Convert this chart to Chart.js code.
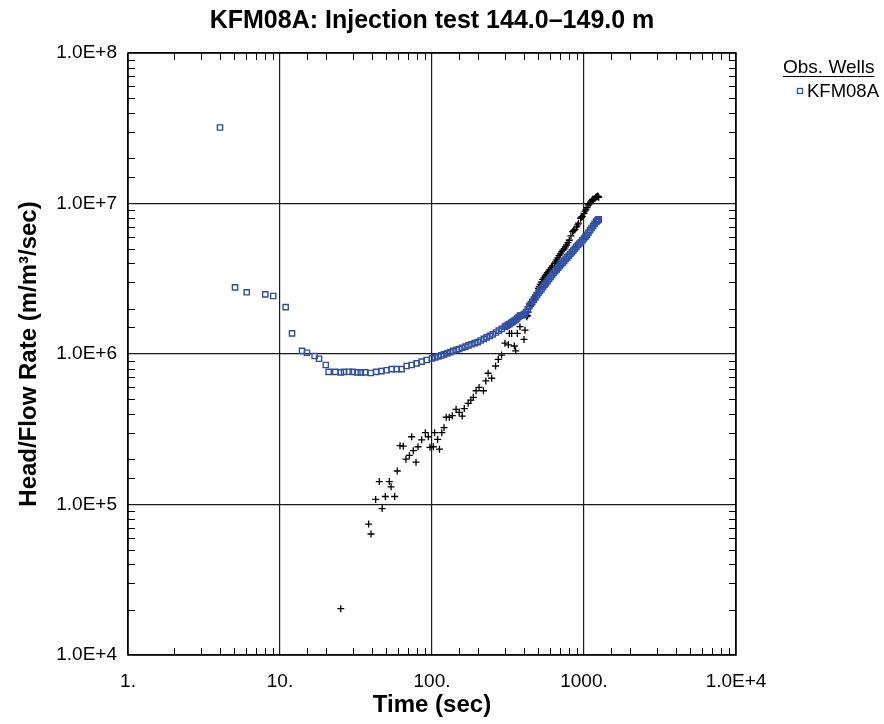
<!DOCTYPE html>
<html>
<head>
<meta charset="utf-8">
<script src="https://cdn.jsdelivr.net/npm/chart.js@4.4.0/dist/chart.umd.min.js"></script>
<style>
  html, body { margin: 0; padding: 0; background: #fff; }
</style>
</head>
<body>
<canvas id="chart" width="884" height="724"></canvas>
<script>
// observed head / flow rate, well KFM08A (squares)
const wellTime = [4.03, 5.06, 6.04, 8.0, 9.03, 10.9, 12.0, 13.96, 15.05, 16.9, 18.06, 20.0, 20.9, 23.1,
  25.1, 26.4, 28.4, 30.1, 32.3, 34.0, 36.3, 39.5, 43.0, 46.4, 50.3, 54.3, 58.6, 63.1, 68.1, 73.5,
  79.3, 85.5, 92.3, 100, 105, 110, 115, 120, 126, 132, 138, 145, 151, 158, 166, 174, 182, 191,
  200, 209, 219, 229, 240, 251, 263, 275, 288, 302, 309, 316, 323, 331, 339, 347, 355, 363, 371,
  380, 389, 398, 407, 417, 427, 437, 447, 457, 468, 479, 490, 501, 513, 525, 537, 550, 562, 575,
  589, 603, 617, 631, 646, 661, 676, 692, 708, 724, 741, 759, 776, 794, 813, 832, 851, 871, 891,
  912, 933, 955, 977, 1000, 1023, 1047, 1071, 1096, 1122, 1148, 1175, 1202, 1216, 1230, 1240, 1250];
const wellHead = [3.2e7, 2.77e6, 2.57e6, 2.49e6, 2.43e6, 2.05e6, 1.37e6, 1.05e6, 1.02e6, 9.7e5, 9.3e5, 8.45e5, 7.6e5, 7.6e5,
  7.55e5, 7.6e5, 7.62e5, 7.6e5, 7.55e5, 7.55e5, 7.55e5, 7.48e5, 7.6e5, 7.7e5, 7.8e5, 7.94e5, 7.94e5, 7.94e5, 8.32e5, 8.45e5,
  8.67e5, 8.9e5, 9.12e5, 9.35e5, 9.5e5, 9.65e5, 9.8e5, 9.95e5, 1.01e6, 1.03e6, 1.05e6, 1.065e6, 1.08e6, 1.1e6, 1.12e6, 1.14e6, 1.16e6, 1.18e6,
  1.2e6, 1.23e6, 1.26e6, 1.29e6, 1.32e6, 1.35e6, 1.39e6, 1.43e6, 1.47e6, 1.52e6, 1.54e6, 1.56e6, 1.58e6, 1.61e6, 1.635e6, 1.66e6, 1.69e6, 1.72e6, 1.76e6,
  1.8e6, 1.81e6, 1.82e6, 1.85e6, 1.9e6, 1.98e6, 2.08e6, 2.15e6, 2.22e6, 2.3e6, 2.38e6, 2.46e6, 2.55e6, 2.62e6, 2.7e6, 2.79e6, 2.88e6, 2.96e6, 3.05e6,
  3.15e6, 3.25e6, 3.35e6, 3.45e6, 3.55e6, 3.65e6, 3.75e6, 3.85e6, 3.95e6, 4.05e6, 4.16e6, 4.28e6, 4.39e6, 4.5e6, 4.62e6, 4.75e6, 4.87e6, 5.0e6, 5.15e6,
  5.3e6, 5.42e6, 5.55e6, 5.7e6, 5.85e6, 6.02e6, 6.2e6, 6.42e6, 6.65e6, 6.88e6, 7.1e6, 7.33e6, 7.55e6, 7.65e6, 7.75e6, 7.8e6, 7.85e6];

// derivative (crosses)
const derivTime = [25.1, 38.3, 39.7, 42.6, 45.0, 47.0, 49.3, 52.4, 53.8, 56.8, 59.1, 61.6, 64.7, 67.4, 71.0,
  73.5, 75.4, 78.5, 80.9, 85.5, 90.4, 94.6, 97.0, 102, 104, 109, 112, 116, 120, 124, 130, 136, 144,
  151, 158, 163, 173, 180, 187, 195, 204, 218, 226, 234, 247, 262, 273, 287, 302, 318, 323, 334,
  348, 355, 364, 379, 403, 409, 420, 425, 430, 441, 448, 455, 465, 476, 482, 490, 501, 508, 515,
  525, 535, 545, 555, 565, 574, 585, 597, 610, 622, 640, 650, 661, 673, 685, 698, 713, 727, 740,
  755, 769, 785, 800, 820, 842, 856, 870, 895, 908, 920, 951, 963, 975, 1000, 1015, 1030, 1048,
  1067, 1095, 1108, 1122, 1136, 1150, 1180, 1195, 1211, 1230, 1240, 1250];
const derivHead = [2.03e4, 7.41e4, 6.37e4, 1.08e5, 1.42e5, 9.4e4, 1.13e5, 1.42e5, 1.31e5, 1.13e5, 1.67e5, 2.46e5, 2.44e5, 2.0e5, 2.12e5,
  2.82e5, 2.28e5, 1.91e5, 2.42e5, 2.69e5, 3.0e5, 2.82e5, 2.4e5, 2.42e5, 3.0e5, 2.71e5, 2.33e5, 3.0e5, 3.24e5, 3.8e5, 3.8e5, 3.89e5, 4.29e5,
  4.1e5, 3.87e5, 4.34e5, 4.7e5, 4.94e5, 5.15e5, 5.7e5, 6.0e5, 5.7e5, 6.62e5, 7.45e5, 6.9e5, 8.32e5, 9.2e5, 9.84e5, 1.18e6, 1.15e6, 1.37e6, 1.37e6,
  1.13e6, 1.05e6, 1.37e6, 1.52e6, 1.25e6, 1.44e6, 1.77e6, 1.8e6, 1.9e6, 2.08e6, 2.12e6, 2.2e6, 2.3e6, 2.38e6, 2.45e6, 2.55e6, 2.73e6, 2.8e6, 2.9e6,
  3.0e6, 3.13e6, 3.2e6, 3.3e6, 3.38e6, 3.47e6, 3.55e6, 3.65e6, 3.75e6, 3.85e6, 4.0e6, 4.1e6, 4.22e6, 4.35e6, 4.5e6, 4.62e6, 4.79e6, 4.9e6, 5.0e6,
  5.15e6, 5.3e6, 5.5e6, 5.7e6, 6.1e6, 6.5e6, 6.6e6, 6.7e6, 7.0e6, 7.2e6, 7.4e6, 7.98e6, 8.1e6, 8.2e6, 8.6e6, 8.9e6, 9.1e6, 9.4e6,
  9.78e6, 1.0e7, 1.02e7, 1.04e7, 1.06e7, 1.07e7, 1.08e7, 1.1e7, 1.11e7, 1.12e7, 1.11e7, 1.1e7];

const xTickValues = [1, 10, 100, 1000, 10000];
const xTickLabels = ['1.', '10.', '100.', '1000.', '1.0E+4'];
const yTickValues = [1e4, 1e5, 1e6, 1e7, 1e8];
const yTickLabels = ['1.0E+4', '1.0E+5', '1.0E+6', '1.0E+7', '1.0E+8'];

const wellColor = '#2f4fa2';

function labelFor(v, values, labels) {
  const i = values.findIndex(t => Math.abs(Math.log10(v) - Math.log10(t)) < 1e-6);
  return i >= 0 ? labels[i] : '';
}
function isDecade(v) {
  const l = Math.log10(v);
  return Math.abs(l - Math.round(l)) < 1e-6;
}

// frame, inward minor ticks, title and legend
const decorations = {
  id: 'decorations',
  afterDraw(chart) {
    const { ctx, chartArea: a, scales: { x, y } } = chart;
    ctx.save();
    ctx.strokeStyle = '#000';
    ctx.lineWidth = 1;
    ctx.beginPath();
    x.ticks.forEach(t => {
      if (isDecade(t.value)) return;
      const px = Math.round(x.getPixelForValue(t.value)) + 0.5;
      ctx.moveTo(px, a.bottom); ctx.lineTo(px, a.bottom - 7);
      ctx.moveTo(px, a.top); ctx.lineTo(px, a.top + 7);
    });
    y.ticks.forEach(t => {
      if (isDecade(t.value)) return;
      const py = Math.round(y.getPixelForValue(t.value)) + 0.5;
      ctx.moveTo(a.left, py); ctx.lineTo(a.left + 7, py);
      ctx.moveTo(a.right, py); ctx.lineTo(a.right - 7, py);
    });
    ctx.stroke();
    ctx.lineWidth = 1.5;
    ctx.strokeRect(a.left, a.top, a.right - a.left, a.bottom - a.top);

    ctx.fillStyle = '#000';
    ctx.textAlign = 'center';
    ctx.textBaseline = 'middle';
    ctx.font = 'bold 25px "Liberation Sans", Arial, sans-serif';
    ctx.fillText('KFM08A: Injection test 144.0\u2013149.0 m', (a.left + a.right) / 2, 21);

    // legend
    ctx.textAlign = 'left';
    ctx.textBaseline = 'alphabetic';
    ctx.font = '19px "Liberation Sans", Arial, sans-serif';
    const head = 'Obs. Wells';
    const w = ctx.measureText(head).width;
    ctx.fillText(head, 783, 73);
    ctx.lineWidth = 1.2;
    ctx.beginPath();
    ctx.moveTo(783, 76.5); ctx.lineTo(783 + w, 76.5);
    ctx.stroke();
    ctx.font = '18.5px "Liberation Sans", Arial, sans-serif';
    ctx.fillText(chart.data.datasets[0].label, 807, 97);
    ctx.strokeStyle = wellColor;
    ctx.lineWidth = 1.3;
    ctx.strokeRect(797.5, 88.5, 5, 5);
    ctx.restore();
  }
};

new Chart(document.getElementById('chart'), {
  type: 'scatter',
  data: {
    datasets: [
      {
        label: 'KFM08A',
        data: wellTime.map((t, i) => ({ x: t, y: wellHead[i] })),
        pointStyle: 'rect',
        pointRadius: 3.7,
        pointBorderWidth: 1.4,
        borderColor: wellColor,
        backgroundColor: 'rgba(0,0,0,0)'
      },
      {
        label: 'derivative',
        data: derivTime.map((t, i) => ({ x: t, y: derivHead[i] })),
        pointStyle: 'cross',
        pointRadius: 3.5,
        pointBorderWidth: 1.3,
        borderColor: '#000',
        backgroundColor: '#000'
      }
    ]
  },
  options: {
    responsive: false,
    animation: false,
    devicePixelRatio: 1,
    layout: { padding: { top: 53, right: 148, left: 0, bottom: 0 } },
    plugins: {
      legend: { display: false },
      title: { display: false },
      tooltip: { enabled: false }
    },
    scales: {
      x: {
        type: 'logarithmic',
        min: 1,
        max: 10000,
        afterFit: s => { s.height = 69; },
        grid: {
          color: c => isDecade(c.tick.value) ? '#1a1a1a' : 'rgba(0,0,0,0)',
          lineWidth: 1.2,
          drawTicks: false
        },
        border: { display: false },
        ticks: {
          autoSkip: false,
          maxRotation: 0,
          padding: 15,
          color: '#000',
          font: { family: '"Liberation Sans", Arial, sans-serif', size: 19 },
          callback: v => labelFor(v, xTickValues, xTickLabels)
        },
        title: {
          display: true,
          text: 'Time (sec)',
          color: '#000',
          padding: { top: 0, bottom: 4 },
          font: { family: '"Liberation Sans", Arial, sans-serif', size: 24, weight: 'bold' }
        }
      },
      y: {
        type: 'logarithmic',
        min: 1e4,
        max: 1e8,
        afterFit: s => { s.width = 128; },
        grid: {
          color: c => isDecade(c.tick.value) ? '#1a1a1a' : 'rgba(0,0,0,0)',
          lineWidth: 1.2,
          drawTicks: false
        },
        border: { display: false },
        ticks: {
          autoSkip: false,
          padding: 11,
          color: '#000',
          font: { family: '"Liberation Sans", Arial, sans-serif', size: 19 },
          callback: v => labelFor(v, yTickValues, yTickLabels)
        },
        title: {
          display: true,
          text: 'Head/Flow Rate (m/m\u00b3/sec)',
          color: '#000',
          padding: { top: 15, bottom: 0 },
          font: { family: '"Liberation Sans", Arial, sans-serif', size: 24, weight: 'bold' }
        }
      }
    }
  },
  plugins: [decorations]
});
</script>
</body>
</html>
